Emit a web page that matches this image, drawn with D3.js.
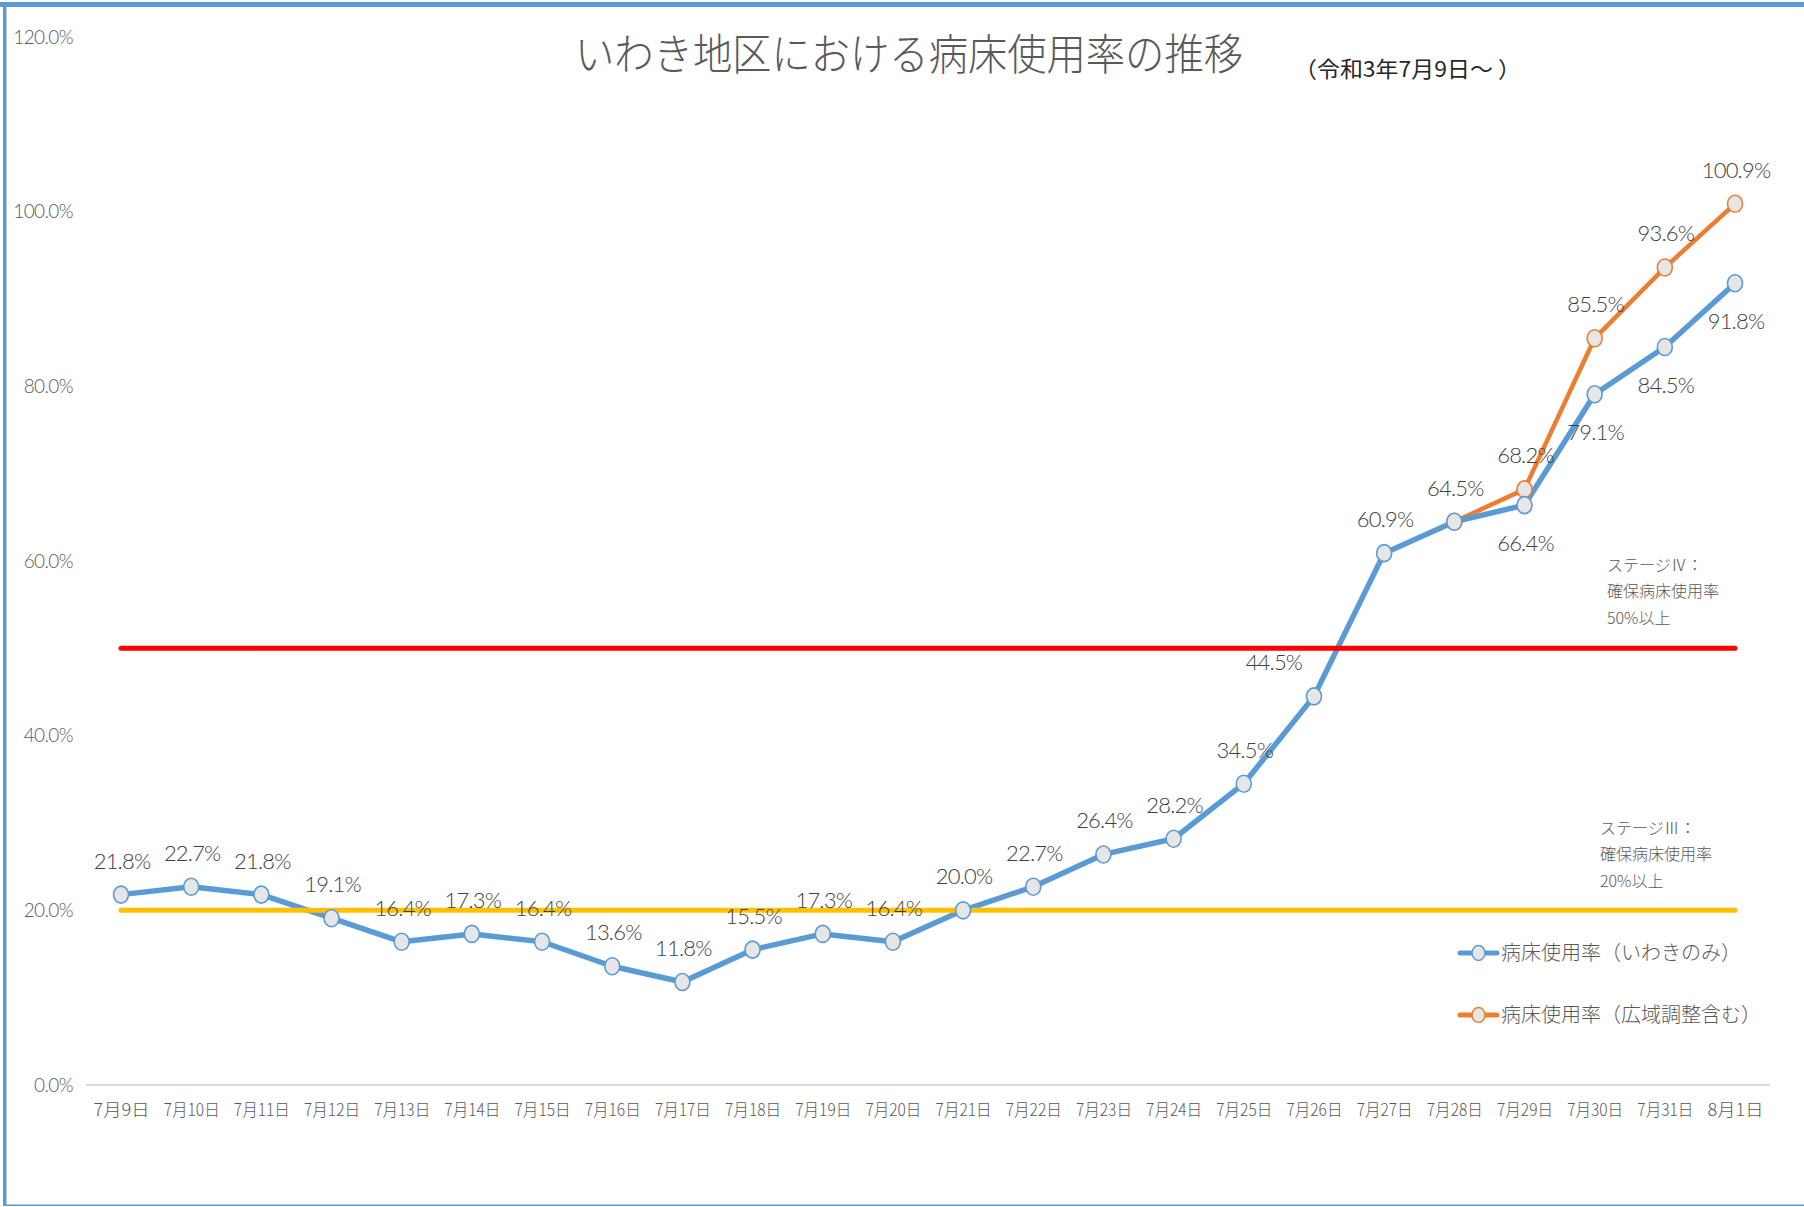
<!DOCTYPE html>
<html><head><meta charset="utf-8">
<script src="https://cdn.jsdelivr.net/npm/d3@7/dist/d3.min.js"></script>
<style>
html,body{margin:0;padding:0;background:#fff;}
svg{display:block;}
</style></head>
<body>
<svg id="chart" width="1804" height="1207"></svg>
<script>
const categories = ["7月9日","7月10日","7月11日","7月12日","7月13日","7月14日","7月15日","7月16日","7月17日","7月18日","7月19日","7月20日","7月21日","7月22日","7月23日","7月24日","7月25日","7月26日","7月27日","7月28日","7月29日","7月30日","7月31日","8月1日"];
const iwakiValues = [21.8,22.7,21.8,19.1,16.4,17.3,16.4,13.6,11.8,15.5,17.3,16.4,20.0,22.7,26.4,28.2,34.5,44.5,60.9,64.5,66.4,79.1,84.5,91.8];
const kouikiValues = [null,null,null,null,null,null,null,null,null,null,null,null,null,null,null,null,null,null,null,64.5,68.2,85.5,93.6,100.9];
const stage4Value = 50;
const stage3Value = 20;
const yTicks = [0,20,40,60,80,100,120];
const seriesNames = ["病床使用率（いわきのみ）","病床使用率（広域調整含む）"];
const titleText = "いわき地区における病床使用率の推移";
const subtitleText = "（令和3年7月9日～ ）";
const stage4Text = ["ステージⅣ：","確保病床使用率","50%以上"];
const stage3Text = ["ステージⅢ：","確保病床使用率","20%以上"];

const BLUE = "#5b9bd5", ORANGE = "#ed7d31", RED = "#ff0000", YELLOW = "#ffc000";
const TXT = "#404040", AXT = "#595959";
const JP = "'Noto Sans CJK JP','Noto Sans',sans-serif";
const NUM = "Lato,'Noto Sans CJK JP',sans-serif";

const svg = d3.select("#chart");

// border
svg.append("rect").attr("x",0).attr("y",2).attr("width",1804).attr("height",5).attr("fill",BLUE);
svg.append("rect").attr("x",3).attr("y",2).attr("width",3.5).attr("height",1204).attr("fill",BLUE);
svg.append("rect").attr("x",3).attr("y",1204.5).attr("width",1801).attr("height",1.5).attr("fill",BLUE);

const x = d3.scalePoint().domain(categories).range([121,1735]);
const y = d3.scaleLinear().domain([0,120]).range([1085,37]);
const step = x.step();

// title
svg.append("text").attr("x",575).attr("y",55).attr("dy","0.36em")
  .attr("font-family",JP).attr("font-size",43).attr("font-weight",300).attr("fill",AXT)
  .attr("textLength",668).attr("lengthAdjust","spacingAndGlyphs").text(titleText);
svg.append("text").attr("x",1294).attr("y",69).attr("dy","0.36em")
  .attr("font-family",JP).attr("font-size",22).attr("fill","#262626")
  .attr("textLength",227).attr("lengthAdjust","spacingAndGlyphs").text(subtitleText);

// baseline
svg.append("line").attr("x1",x(categories[0])-step/2).attr("x2",x(categories[categories.length-1])+step/2)
  .attr("y1",y(0)).attr("y2",y(0)).attr("stroke","#d9d9d9").attr("stroke-width",2);

// y axis
const yAxis = svg.append("g").attr("transform","translate(73,0)")
  .call(d3.axisLeft(y).tickValues(yTicks).tickSize(0).tickPadding(0).tickFormat(d=>d.toFixed(1)+"%"));
yAxis.select(".domain").remove();
yAxis.selectAll("text").attr("font-family",NUM).attr("font-size",19).attr("font-weight",300)
  .attr("fill",AXT).attr("letter-spacing","-0.6");

// x axis
const xAxis = svg.append("g").attr("transform",`translate(0,${y(0)})`)
  .call(d3.axisBottom(x).tickSize(0).tickPadding(0));
xAxis.select(".domain").remove();
xAxis.selectAll("text").attr("y",25).attr("dy","0.36em").attr("font-family",JP).attr("font-size",17)
  .attr("font-weight",300).attr("fill",AXT);
xAxis.selectAll("text").each(function(d){
  d3.select(this).attr("textLength", d.length>=6 ? 66 : 56).attr("lengthAdjust","spacingAndGlyphs");
});

const line = d3.line().defined(d=>d.v!=null).x(d=>x(d.c)).y(d=>y(d.v));
const iwaki = categories.map((c,i)=>({c,v:iwakiValues[i],i}));
const kouiki = categories.map((c,i)=>({c,v:kouikiValues[i],i}));

// series lines
svg.append("path").datum(kouiki).attr("d",line).attr("fill","none").attr("stroke",ORANGE)
  .attr("stroke-width",4.5).attr("stroke-linejoin","round").attr("stroke-linecap","round");
svg.append("path").datum(iwaki).attr("d",line).attr("fill","none").attr("stroke",BLUE)
  .attr("stroke-width",5.5).attr("stroke-linejoin","round").attr("stroke-linecap","round");

// threshold lines
const x0 = x(categories[0]), x1 = x(categories[categories.length-1]);
svg.append("line").attr("x1",x0).attr("x2",x1).attr("y1",y(stage4Value)).attr("y2",y(stage4Value))
  .attr("stroke",RED).attr("stroke-width",5).attr("stroke-linecap","round");
svg.append("line").attr("x1",x0).attr("x2",x1).attr("y1",y(stage3Value)).attr("y2",y(stage3Value))
  .attr("stroke",YELLOW).attr("stroke-width",5).attr("stroke-linecap","round");

// markers
function markers(data, color){
  svg.append("g").selectAll("ellipse").data(data.filter(d=>d.v!=null)).join("ellipse")
    .attr("cx",d=>x(d.c)).attr("cy",d=>y(d.v)).attr("rx",7.5).attr("ry",8.5)
    .attr("fill","#e6e6e6").attr("stroke",color).attr("stroke-width",1.6);
}
markers(kouiki, ORANGE);
markers(iwaki, BLUE);

// data labels
const belowIdx = [20,21,22,23];
const shiftLeftIdx = [17];
function labels(data, skip, isIwaki){
  svg.append("g").selectAll("text").data(data.filter(d=>d.v!=null && !skip.includes(d.i))).join("text")
    .attr("x",d=>x(d.c) + (isIwaki && shiftLeftIdx.includes(d.i) ? -40 : 1))
    .attr("y",d=>y(d.v) + ((isIwaki && belowIdx.includes(d.i)) ? 38 : -34))
    .attr("dy","0.36em").attr("text-anchor","middle")
    .attr("font-family",NUM).attr("font-size",22).attr("font-weight",300).attr("fill",TXT).attr("letter-spacing","-0.8")
    .text(d=>d.v.toFixed(1)+"%");
}
labels(iwaki, [], true);
labels(kouiki, [19], false);

// stage annotations
function annot(lines, ax, ay){
  const t = svg.append("text").attr("font-family",JP).attr("font-size",16).attr("font-weight",300).attr("fill",AXT);
  lines.forEach((s,k)=>t.append("tspan").attr("x",ax).attr("y",ay+k*26.5).attr("dy","0.36em").text(s));
}
annot(stage4Text, 1607, 565);
annot(stage3Text, 1600, 828);

// legend
const legend = [{name:seriesNames[0],color:BLUE,ly:953},{name:seriesNames[1],color:ORANGE,ly:1015}];
const lg = svg.append("g").selectAll("g").data(legend).join("g");
lg.append("line").attr("x1",1460).attr("x2",1497).attr("y1",d=>d.ly).attr("y2",d=>d.ly)
  .attr("stroke",d=>d.color).attr("stroke-width",5).attr("stroke-linecap","round");
lg.append("ellipse").attr("cx",1478.5).attr("cy",d=>d.ly).attr("rx",6.5).attr("ry",7.5)
  .attr("fill","#e6e6e6").attr("stroke",d=>d.color).attr("stroke-width",1.5);
lg.append("text").attr("x",1501).attr("y",d=>d.ly).attr("dy","0.36em")
  .attr("font-family",JP).attr("font-size",20).attr("font-weight",300).attr("fill",AXT).text(d=>d.name);
</script>
</body></html>
